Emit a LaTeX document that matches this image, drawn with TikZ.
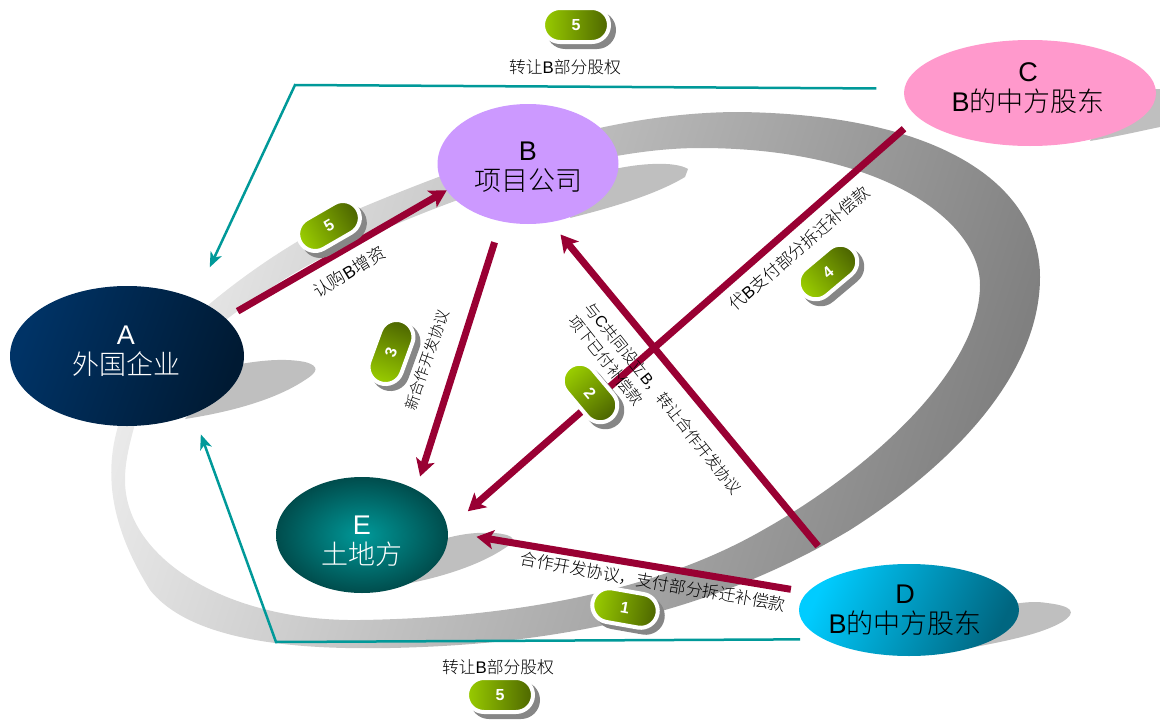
\documentclass[tikz,border=0pt]{standalone}
\usepackage{fontspec}
\setmainfont{Liberation Sans}
\newfontfamily\cjk{Noto Sans CJK SC}[UprightFont=* Light]
\usetikzlibrary{arrows.meta, shapes.geometric, shapes.misc}
\definecolor{crimson}{HTML}{990033}
\definecolor{teal2}{HTML}{009999}
\definecolor{shadowgray}{HTML}{BFBFBF}
\definecolor{pillgreen}{HTML}{99CC00}
\definecolor{pilldark}{HTML}{4D6600}
\definecolor{navylight}{HTML}{003366}
\definecolor{navydark}{HTML}{001A33}
\definecolor{lilac}{HTML}{CC99FF}
\definecolor{rose}{HTML}{FF99CC}
\definecolor{skylight}{HTML}{00CCFF}
\definecolor{skydark}{HTML}{006680}
\newcommand{\zh}[1]{{\cjk #1}}
\begin{document}
\begin{tikzpicture}[x = 1pt, y = -1pt % picture is laid out in pixels
            ]

            \tikzstyle{party}=[ellipse, inner sep = 0pt, outer sep = 0pt]
            \tikzstyle{partytext}=[inner sep = 0pt, align = center,
            font = \fontsize{27}{30}\selectfont]
            \tikzstyle{deal}=[draw = crimson, line width = 7pt,
            -{Stealth[length = 17pt, width = 19pt, inset = 4pt]}]
            \tikzstyle{transfer}=[draw = teal2, line width = 2.5pt,
            -{Stealth[length = 15pt, width = 12pt, inset = 4pt]}]
            \tikzstyle{note}=[inner sep = 0pt, align = left, text = black,
            font = \fontsize{16.8}{19}\selectfont]
            \tikzstyle{pillback}=[rounded rectangle, inner sep = 0pt, fill = gray!95,
            minimum width = 70pt, minimum height = 38pt]
            \tikzstyle{pill}=[rounded rectangle, inner sep = 0pt, draw = white, line width = 4pt,
            minimum width = 66pt, minimum height = 34pt, text = white,
            font = \fontsize{16}{16}\bfseries]

            \useasboundingbox (0,0) rectangle (1160,720);

            % the ring behind everything
            \shade[left color = black!8, right color = black!50, shading angle = 72]
            (128,400) .. controls (105,450) and (100,510) .. (150,590)
            .. controls (190,640) and (290,650) .. (390,648)
            .. controls (540,645) and (700,620) .. (850,530)
            .. controls (960,460) and (1040,370) .. (1040,277)
            .. controls (1040,190) and (950,115) .. (740,112)
            .. controls (620,112) and (500,150) .. (363,207)
            .. controls (290,240) and (220,290) .. (170,340)
            -- (190,350)
            .. controls (240,305) and (300,265) .. (360,240)
            .. controls (470,190) and (600,148) .. (700,148)
            .. controls (880,148) and (980,220) .. (980,285)
            .. controls (980,370) and (870,470) .. (763,530)
            .. controls (650,595) and (500,618) .. (360,620)
            .. controls (230,622) and (125,560) .. (125,480)
            .. controls (125,460) and (130,440) .. (142,400) -- cycle;

            % shadows of the parties
            \fill[shadowgray] (185,419) .. controls (230,412) and (275,400) .. (305,380)
            .. controls (318,372) and (320,366) .. (305,362)
            .. controls (285,358) and (260,360) .. (230,366) -- cycle;
            \fill[shadowgray] (570,218) .. controls (610,208) and (655,195) .. (685,177)
            -- (688,169) .. controls (675,161) and (640,163) .. (610,170) -- cycle;
            \fill[shadowgray] (1090,141) .. controls (1120,136) and (1145,130) .. (1160,127)
            -- (1160,89) -- (1120,89) -- cycle;
            \fill[shadowgray] (400,585) .. controls (440,578) and (480,565) .. (505,548)
            .. controls (518,540) and (515,535) .. (495,533)
            .. controls (475,532) and (460,534) .. (440,540) -- cycle;
            \fill[shadowgray] (970,648) .. controls (1000,642) and (1040,635) .. (1062,622)
            .. controls (1078,612) and (1072,606) .. (1047,603)
            .. controls (1035,601) and (1025,602) .. (1000,606) -- cycle;

            \node (A) [party, minimum width = 234pt, minimum height = 140pt,
            left color = navylight, right color = navydark, shading angle = 70,
            label = {[partytext, name = Atext, text = white, xshift = -1pt, yshift = 4.4pt]center:{A\\\zh{外国企业}}}] at (127,356) {};
            \node (B) [party, minimum width = 181pt, minimum height = 120pt, fill = lilac,
            label = {[partytext, name = Btext, yshift = -3.6pt]center:{B\\\zh{项目公司}}}] at (528,164) {};
            \node (C) [party, minimum width = 252pt, minimum height = 106pt, fill = rose,
            label = {[partytext, name = Ctext, xshift = -2pt, yshift = 4.4pt]center:{C\\B\zh{的中方股东}}}] at (1030,93) {};
            \node (D) [party, minimum width = 220pt, minimum height = 92pt,
            left color = skylight, right color = skydark, shading angle = 65,
            label = {[partytext, name = Dtext, xshift = -4pt]center:{D\\B\zh{的中方股东}}}] at (909,610) {};
            \node (E) [party, minimum width = 172pt, minimum height = 116pt,
            inner color = teal2, outer color = teal2!50!black,
            label = {[partytext, name = Etext, text = white, yshift = -6.6pt]center:{E\\\zh{土地方}}}] at (362,535) {};

            \coordinate (topcorner) at (295,85);
            \coordinate (bottomcorner) at (276,642);

            \draw[transfer, shorten <= 28pt, shorten >= 35pt] (C.178) -- (topcorner) -- (A.40);
            \draw[transfer, shorten <= 24pt, shorten >= 22pt] (D.199) -- (bottomcorner) -- (A.319);

            \draw[deal, shorten <= 14pt] (A.21) -- (B.198);
            \draw[deal, shorten <= 22pt, shorten >= 14pt] (B.245) -- (E.40);
            \draw[deal, shorten <= 18pt, shorten >= 27pt] (C.192) -- (E.4);
            \draw[deal, shorten <= 36pt, shorten >= 16pt] (D.152) -- (B.291);
            \draw[deal, shorten <= 17pt, shorten >= 29pt] (D.170) -- (E.2);

            \foreach \name/\px/\py/\ang/\num in {topfive/576/25/0/5, bottomfive/500/695/0/5,
            buyfive/329/226/30/5, three/391/352/70/3, two/590/393/-50/2, four/828/272/40/4,
            one/625/608/-10/1}
            {
                \pgfmathsetmacro{\shadeang}{90+\ang}
                \node (\name back) [pillback, rotate = \ang] at (\px+5,\py+5) {};
                \node (\name) [pill, rotate = \ang, left color = pillgreen,
                right color = pilldark, shading angle = \shadeang] at (\px,\py) {\num};
            }

            \node (topnote) [note] at (565,67) {\zh{转让}B\zh{部分股权}};
            \node (bottomnote) [note] at (498,667) {\zh{转让}B\zh{部分股权}};
            \node (buynote) [note, font = \fontsize{17.3}{19}\selectfont, rotate = 32] at (349,272) {\zh{认购}B\zh{增资}};
            \node (newnote) [note, font = \fontsize{15}{19}\selectfont, rotate = 70.7] at (427,360) {\zh{新合作开发协议}};
            \node (paynote) [note, rotate = 41] at (799,248) {\zh{代}B\zh{支付部分拆迁补偿款}};
            \node (jointnote) [note, font = \fontsize{15.6}{21}\selectfont, rotate = -51.5] at (655,405)
            {\zh{与}C\zh{共同设立}B\zh{，转让合作开发协议}\\\zh{项下已付补偿款}};
            \node (devnote) [note, rotate = -10] at (653,582)
            {\zh{合作开发协议，支付部分拆迁补偿款}};

        \end{tikzpicture}
\end{document}
